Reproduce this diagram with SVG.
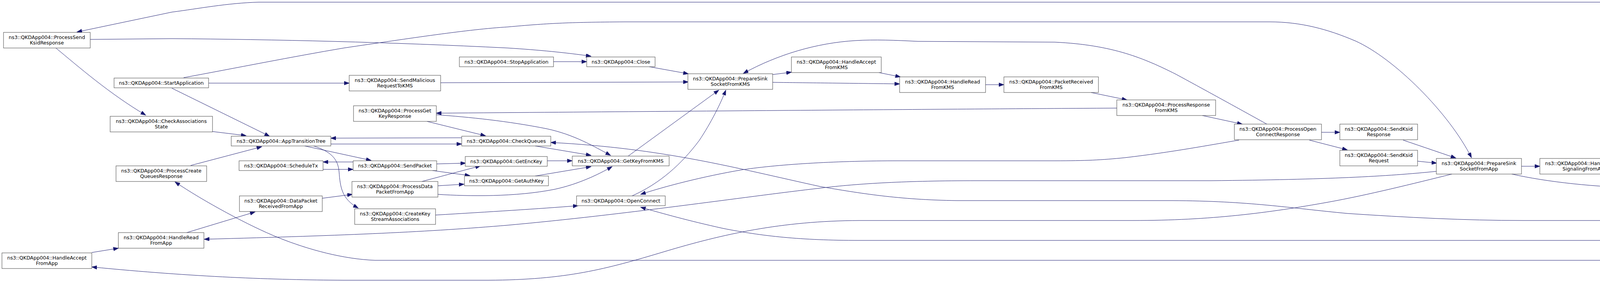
<svg xmlns="http://www.w3.org/2000/svg" width="5247" height="720" viewBox="0 0 5247 720">
<style>
.n rect{fill:#ffffff;stroke:#404040;stroke-width:1}
.f rect{fill:#bfbfbf;stroke:#000000;stroke-width:1}
text{font-family:"DejaVu Sans","Liberation Sans",sans-serif;font-size:12.6px;fill:#000000;text-anchor:middle}
.e path{fill:none;stroke:#191970;stroke-width:1;marker-end:url(#ah)}
</style>
<defs>
<marker id="ah" markerUnits="userSpaceOnUse" viewBox="0 0 14 10" markerWidth="14" markerHeight="10" refX="13" refY="4.7" orient="auto">
<path d="M0,0 L13,4.7 L0,9.4 z" fill="#191970" stroke="#191970" stroke-width="1"/>
</marker>
</defs>
<rect x="0" y="0" width="5247" height="720" fill="#ffffff"/>
<g id="edges" class="e">
<path d="M4983,565 L5030,565"/>
<path d="M4665,516 L4778,545"/>
<path d="M4438,490 L4486,491.5"/>
<path d="M4152,446 L4235,465"/>
<path d="M3895,426 L3942,426"/>
<path d="M3870,446 C3960,466 4080,480 4219,482"/>
<path d="M3592,359 L3727,405"/>
<path d="M3629,413 L3678,418"/>
<path d="M3383,339 L3430,339"/>
<path d="M3352,359 L3449,384"/>
<path d="M3078,296 L3180,318"/>
<path d="M2793,237 L2885,256"/>
<path d="M2523,217 L2570,217"/>
<path d="M2250,186 L2305,197"/>
<path d="M1978,191 L2026,185"/>
<path d="M1978,211 C2050,212 2150,213 2303,215"/>
<path d="M3243,318 C3160,272 3080,228 3010,190 C2930,150 2850,115 2700,108 L2350,106 C2290,103 2240,101 2190,104 C2090,110 1990,140 1903,188"/>
<path d="M1662,171 L1762,189"/>
<path d="M1128,212 L1762,210"/>
<path d="M1608,400 L1840,231"/>
<path d="M1618,502 C1690,470 1745,420 1790,360 C1820,315 1845,265 1858,231"/>
<path d="M1417,158 L1502,158"/>
<path d="M534,213 L894,213"/>
<path d="M470,199 C600,175 750,145 880,123 C1050,98 1200,75 1300,69 C1400,60 1450,57 1600,56 L3250,56 C3330,56 3400,75 3470,105 C3570,150 3710,290 3767,404"/>
<path d="M231,101 L440,99 C700,101 1000,108 1300,123 C1380,128 1450,135 1513,144"/>
<path d="M4850,545 C4800,440 4700,230 4567,101 C4500,40 4420,5.5 4300,5.5 L663,5.5 C580,8 510,22 440,31 L197,82"/>
<path d="M143,123 C200,170 280,240 373,295"/>
<path d="M440,226 L690,349"/>
<path d="M544,337 L630,347.5"/>
<path d="M488,424 L670,376"/>
<path d="M478,596 L653,543"/>
<path d="M825,508 L902,498"/>
<path d="M4793,585 C4700,610 4500,667 4300,667 L960,667 C880,664 790,640 713,609 C640,580 520,515 448,466"/>
<path d="M3677,439 C3550,452 3400,460 3100,463 L2500,463 C2320,463 2200,470 2100,482 C1900,505 1600,550 1300,577 C1100,594 900,603 523,613"/>
<path d="M3717,446 C3620,470 3500,500 3400,518 C3250,545 3100,565 2900,565 L2200,565 C2000,566 1850,600 1700,645 C1550,690 1450,717 1250,718 L880,718 C700,717 500,710 235,684"/>
<path d="M235,647 L303,636"/>
<path d="M1182,353 L847,354"/>
<path d="M847,369 L1182,369"/>
<path d="M780,374 L950,411"/>
<path d="M803,374 C845,388 865,405 868,440 C871,480 875,510 917,533"/>
<path d="M904,415 L827,415"/>
<path d="M827,434 L904,434"/>
<path d="M1118,420 L1192,418"/>
<path d="M1107,437 L1203,450"/>
<path d="M1080,465 L1230,425"/>
<path d="M1121,476 L1188,472"/>
<path d="M1121,498 C1200,503 1320,505 1420,485 C1480,472 1530,448 1567,427"/>
<path d="M1115,551 C1250,543 1380,535 1480,527"/>
<path d="M2859,277 C2500,279 2000,283 1117,290"/>
<path d="M1117,294 C1200,300 1300,310 1400,330 C1470,345 1520,375 1563,398"/>
<path d="M1093,311 L1243,348"/>
<path d="M1370,374 L1513,398"/>
<path d="M1401,412 L1465,412"/>
<path d="M1370,451 L1513,427"/>
<path d="M4733,565 L3900,565 C3750,565 3600,557 3450,547 C3300,533 3200,515 3000,514 L2450,514 C2300,512 2200,495 2100,478 C1880,430 1700,380 1410,365"/>
<path d="M3172,359 C3100,371 3000,390 2880,404 C2820,410 2780,412 2700,412 L2300,412 C2150,412 2000,420 1900,435 C1800,452 1700,478 1640,498"/>
<path d="M4733,584 C4600,600 4450,616 4300,616 L2200,616 C2050,616 1950,605 1850,585 C1760,565 1700,548 1640,531"/>
</g>
<g id="psksid" class="n"><rect x="9" y="83" width="222" height="40"/><text x="120" y="100">ns3::QKDApp004::ProcessSend</text><text x="120" y="114">KsidResponse</text></g>
<g id="start" class="n"><rect x="292" y="200" width="242" height="25"/><text x="413" y="217">ns3::QKDApp004::StartApplication</text></g>
<g id="chkassoc" class="n"><rect x="282" y="298" width="262" height="40"/><text x="413" y="315">ns3::QKDApp004::CheckAssociations</text><text x="413" y="329">State</text></g>
<g id="pcq" class="n"><rect x="297" y="425" width="232" height="40"/><text x="413" y="442">ns3::QKDApp004::ProcessCreate</text><text x="413" y="456">QueuesResponse</text></g>
<g id="hrapp" class="n"><rect x="303" y="596" width="219" height="40"/><text x="412.5" y="613">ns3::QKDApp004::HandleRead</text><text x="412.5" y="627">FromApp</text></g>
<g id="haapp" class="n"><rect x="5" y="648" width="230" height="40"/><text x="120" y="665">ns3::QKDApp004::HandleAccept</text><text x="120" y="679">FromApp</text></g>
<g id="att" class="n"><rect x="592" y="349" width="255" height="25"/><text x="719.5" y="366">ns3::QKDApp004::AppTransitionTree</text></g>
<g id="sched" class="n"><rect x="612" y="412" width="215" height="25"/><text x="719.5" y="429">ns3::QKDApp004::ScheduleTx</text></g>
<g id="dprfa" class="n"><rect x="613" y="502" width="212" height="40"/><text x="719" y="519">ns3::QKDApp004::DataPacket</text><text x="719" y="533">ReceivedFromApp</text></g>
<g id="stop" class="n"><rect x="1176" y="146" width="241" height="25"/><text x="1296.5" y="163">ns3::QKDApp004::StopApplication</text></g>
<g id="smal" class="n"><rect x="894" y="193" width="234" height="40"/><text x="1011" y="210">ns3::QKDApp004::SendMalicious</text><text x="1011" y="224">RequestToKMS</text></g>
<g id="pgkr" class="n"><rect x="905" y="271" width="212" height="40"/><text x="1011" y="288">ns3::QKDApp004::ProcessGet</text><text x="1011" y="302">KeyResponse</text></g>
<g id="chkq" class="n"><rect x="1182" y="349" width="228" height="25"/><text x="1296" y="366">ns3::QKDApp004::CheckQueues</text></g>
<g id="sendp" class="n"><rect x="904" y="412" width="214" height="25"/><text x="1011" y="429">ns3::QKDApp004::SendPacket</text></g>
<g id="genc" class="n"><rect x="1191" y="401" width="210" height="25"/><text x="1296" y="418">ns3::QKDApp004::GetEncKey</text></g>
<g id="gauth" class="n"><rect x="1189" y="451" width="215" height="25"/><text x="1296.5" y="468">ns3::QKDApp004::GetAuthKey</text></g>
<g id="pdpfa" class="n"><rect x="901" y="465" width="220" height="40"/><text x="1011" y="482">ns3::QKDApp004::ProcessData</text><text x="1011" y="496">PacketFromApp</text></g>
<g id="cksa" class="n"><rect x="908" y="535" width="207" height="40"/><text x="1011.5" y="552">ns3::QKDApp004::CreateKey</text><text x="1011.5" y="566">StreamAssociations</text></g>
<g id="close" class="n"><rect x="1502" y="146" width="175" height="25"/><text x="1589.5" y="163">ns3::QKDApp004::Close</text></g>
<g id="gkfk" class="n"><rect x="1465" y="400" width="248" height="25"/><text x="1589" y="417">ns3::QKDApp004::GetKeyFromKMS</text></g>
<g id="openc" class="n"><rect x="1476" y="502" width="227" height="25"/><text x="1589.5" y="519">ns3::QKDApp004::OpenConnect</text></g>
<g id="pssk" class="n"><rect x="1761" y="189" width="217" height="40"/><text x="1869.5" y="206">ns3::QKDApp004::PrepareSink</text><text x="1869.5" y="220">SocketFromKMS</text></g>
<g id="hafk" class="n"><rect x="2026" y="146" width="230" height="40"/><text x="2141" y="163">ns3::QKDApp004::HandleAccept</text><text x="2141" y="177">FromKMS</text></g>
<g id="hrfk" class="n"><rect x="2303" y="197" width="220" height="40"/><text x="2413" y="214">ns3::QKDApp004::HandleRead</text><text x="2413" y="228">FromKMS</text></g>
<g id="prfk" class="n"><rect x="2570" y="197" width="242" height="40"/><text x="2691" y="214">ns3::QKDApp004::PacketReceived</text><text x="2691" y="228">FromKMS</text></g>
<g id="presp" class="n"><rect x="2859" y="256" width="253" height="40"/><text x="2985.5" y="273">ns3::QKDApp004::ProcessResponse</text><text x="2985.5" y="287">FromKMS</text></g>
<g id="pocr" class="n"><rect x="3160" y="318" width="223" height="40"/><text x="3271.5" y="335">ns3::QKDApp004::ProcessOpen</text><text x="3271.5" y="349">ConnectResponse</text></g>
<g id="sksr" class="n"><rect x="3430" y="318" width="199" height="40"/><text x="3529.5" y="335">ns3::QKDApp004::SendKsid</text><text x="3529.5" y="349">Response</text></g>
<g id="sksq" class="n"><rect x="3430" y="385" width="199" height="40"/><text x="3529.5" y="402">ns3::QKDApp004::SendKsid</text><text x="3529.5" y="416">Request</text></g>
<g id="pssa" class="n"><rect x="3677" y="406" width="218" height="40"/><text x="3786" y="423">ns3::QKDApp004::PrepareSink</text><text x="3786" y="437">SocketFromApp</text></g>
<g id="hasfa" class="n"><rect x="3942" y="406" width="230" height="40"/><text x="4057" y="423">ns3::QKDApp004::HandleAccept</text><text x="4057" y="437">SignalingFromApp</text></g>
<g id="hrsfa" class="n"><rect x="4219" y="465" width="219" height="40"/><text x="4328.5" y="482">ns3::QKDApp004::HandleRead</text><text x="4328.5" y="496">SignalingFromApp</text></g>
<g id="sprfa" class="n"><rect x="4486" y="475" width="199" height="40"/><text x="4585.5" y="492">ns3::QKDApp004::Signaling</text><text x="4585.5" y="506">PacketReceivedFromApp</text></g>
<g id="pspfa" class="n"><rect x="4733" y="545" width="250" height="40"/><text x="4858" y="562">ns3::QKDApp004::ProcessSignaling</text><text x="4858" y="576">PacketFromApp</text></g>
<g id="gm" class="f"><rect x="5030" y="545" width="212" height="40"/><text x="5136" y="562">ns3::QKDApp004::GetMethod</text><text x="5136" y="576">FromHttp004AppQuery</text></g>
</svg>
